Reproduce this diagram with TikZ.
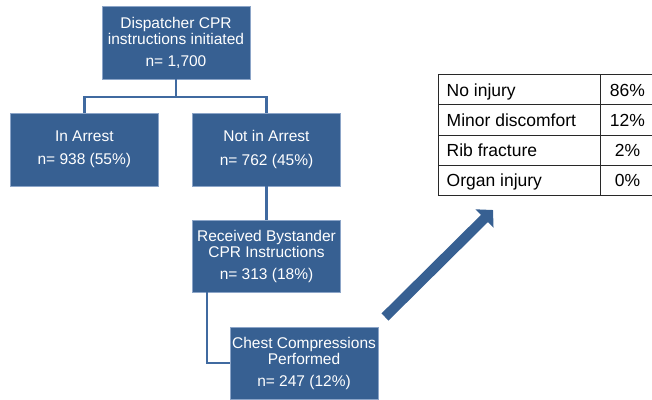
\documentclass[tikz,border=0pt]{standalone}
\usepackage{fontspec}
\setmainfont{Liberation Sans}
\usetikzlibrary{arrows.meta}
\definecolor{boxblue}{RGB}{55,96,146}
\definecolor{boxedge}{RGB}{140,165,200}
\definecolor{linkblue}{RGB}{64,106,160}
\definecolor{rulegray}{RGB}{40,40,40}
\tikzset{
  flowbox/.style={rectangle, fill=boxblue, draw=boxedge, line width=0.7pt,
    text=white, align=center, inner sep=0pt,
    minimum width=148pt, minimum height=73pt,
    font=\fontsize{15.5}{16}\selectfont},
  link/.style={draw=linkblue, line width=2.5pt},
  cell/.style={inner sep=0pt, text=black, font=\fontsize{17.5}{18}\selectfont},
  grid/.style={draw=rulegray, line width=1pt},
  bigarrow/.style={draw=boxblue, line width=10pt,
    -{Triangle[length=12pt,width=25pt]}}
}
\begin{document}
\begin{tikzpicture}[x=1pt,y=-1pt]
\useasboundingbox (0,0) rectangle (652,399);

% flow chart boxes
\node[flowbox] (disp) at (176,42.5) {Dispatcher CPR\\instructions initiated\\[6pt]n= 1,700};
\node[flowbox] (arrest) at (84.3,149.5) {In Arrest\\[7.5pt]n= 938 (55\%)};
\node[flowbox] (noarrest) at (266.5,149.5) {Not in Arrest\\[7.5pt]n= 762 (45\%)};
\node[flowbox, minimum height=72pt] (recv) at (266.5,256) {Received Bystander\\CPR Instructions\\[6pt]n= 313 (18\%)};
\node[flowbox, minimum height=72pt] (chest) at (304,363) {Chest Compressions\\Performed\\[6pt]n= 247 (12\%)};

% connectors
\coordinate (split) at (176,97);
\draw[link] (disp.south) -- (split);
\draw[link] (arrest.north) |- (split) -| (noarrest.north);
\draw[link] (noarrest.south) -- (recv.north);
\draw[link] ([xshift=14.7pt]recv.south west) |- (chest.west);

% arrow towards the injury table
\coordinate (tail) at (385,317);
\coordinate (tip) at (493,210);
\draw[bigarrow] (tail) -- (tip);

% injury table
\draw[grid] (438,74) -- (652,74);
\draw[grid] (438,104.5) -- (652,104.5);
\draw[grid] (438,135) -- (652,135);
\draw[grid] (438,165) -- (652,165);
\draw[grid] (438,195) -- (652,195);
\draw[grid] (438,74) -- (438,195);
\draw[grid] (600,74) -- (600,195);

\node[cell, anchor=base west] (r1a) at (446.5,96.3) {No injury};
\node[cell, anchor=base west] (r2a) at (446.5,126.7) {Minor discomfort};
\node[cell, anchor=base west] (r3a) at (446.5,156.7) {Rib fracture};
\node[cell, anchor=base west] (r4a) at (446.5,186.7) {Organ injury};
\node[cell, anchor=base] (r1b) at (627.5,96.3) {86\%};
\node[cell, anchor=base] (r2b) at (627.5,126.7) {12\%};
\node[cell, anchor=base] (r3b) at (627.5,156.7) {2\%};
\node[cell, anchor=base] (r4b) at (627.5,186.7) {0\%};
\end{tikzpicture}
\end{document}
